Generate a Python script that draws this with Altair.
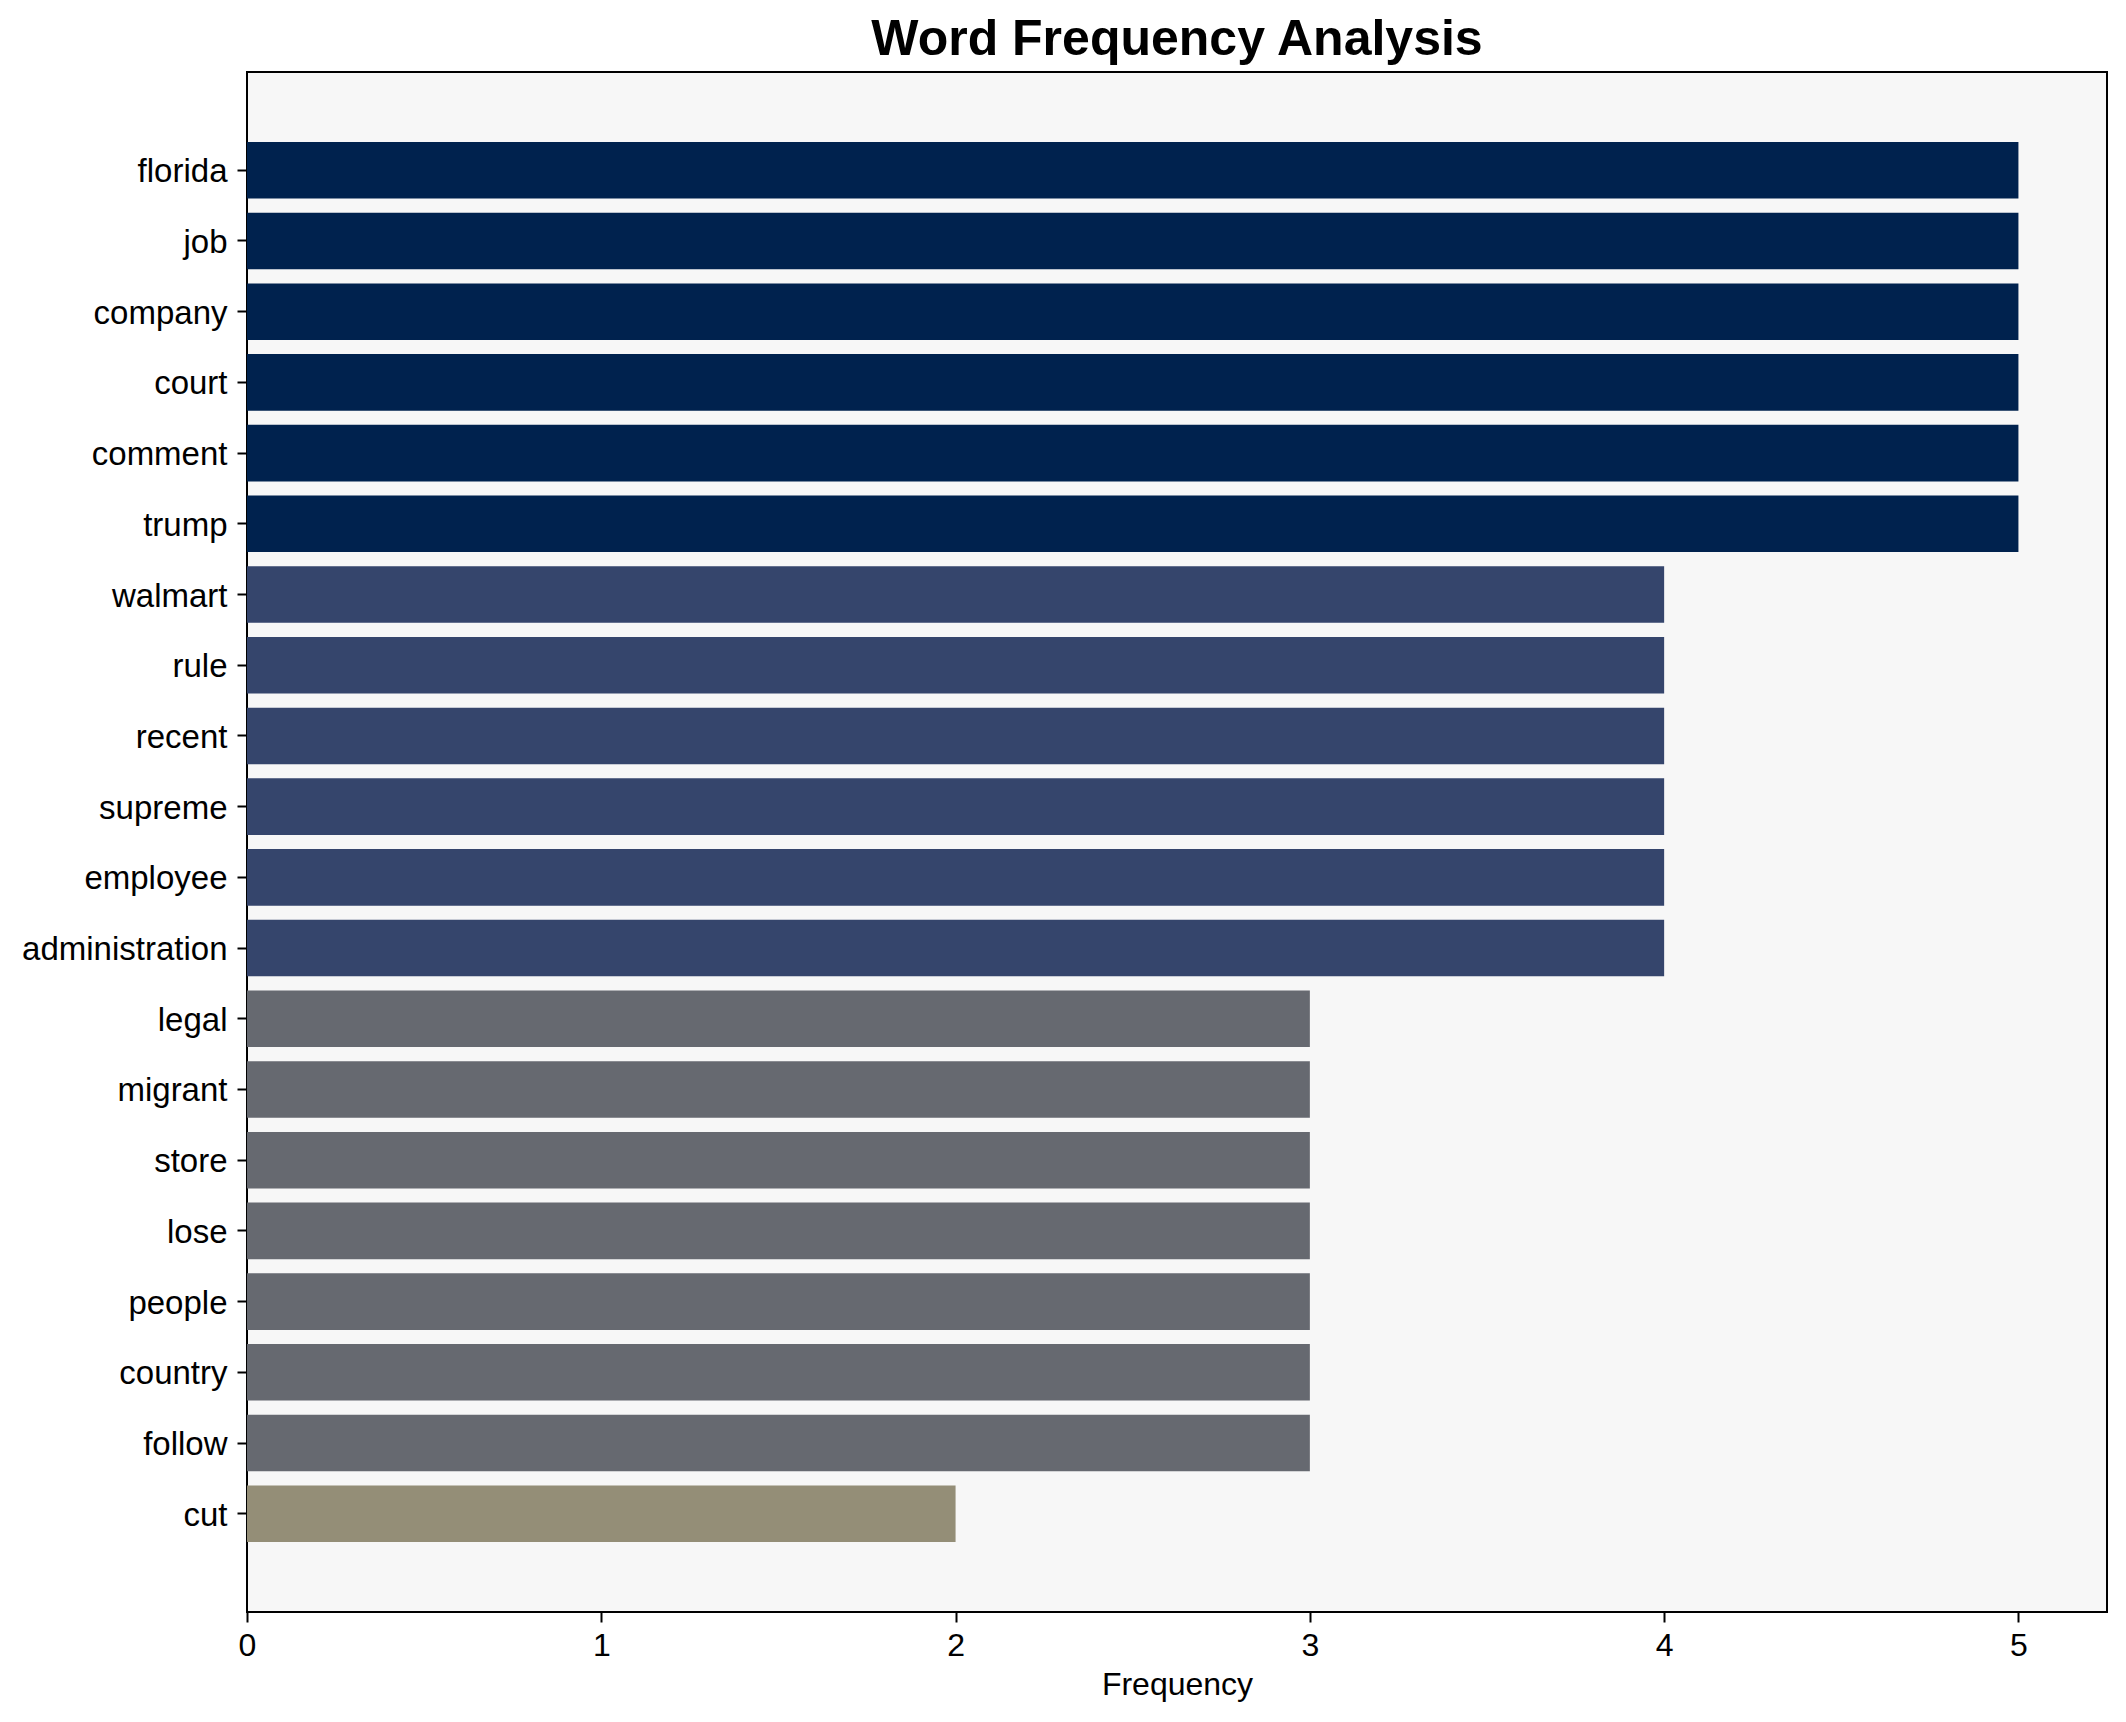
import altair as alt
import pandas as pd

words = ["florida", "job", "company", "court", "comment", "trump",
         "walmart", "rule", "recent", "supreme", "employee", "administration",
         "legal", "migrant", "store", "lose", "people", "country", "follow", "cut"]
freqs = [5, 5, 5, 5, 5, 5,
         4, 4, 4, 4, 4, 4,
         3, 3, 3, 3, 3, 3, 3, 2]
color_levels = [5, 4, 3, 2]
color_values = ["#00224e", "#35456c", "#666970", "#948e77"]
x_ticks = [0, 1, 2, 3, 4, 5]

df = pd.DataFrame({"word": words, "freq": freqs})

FONT = "Liberation Sans"

chart = alt.Chart(df).mark_bar().encode(
    x=alt.X("freq:Q",
            scale=alt.Scale(domain=[0, 5.25], nice=False, zero=True),
            axis=alt.Axis(values=x_ticks, format="d", title="Frequency",
                          labelFontSize=32, titleFontSize=32, titleFontWeight="normal",
                          labelFont=FONT, titleFont=FONT, labelColor="black", titleColor="black",
                          grid=False, domain=False, tickColor="black", tickWidth=2, tickSize=10,
                          labelPadding=8, titlePadding=8, labelFlush=False)),
    y=alt.Y("word:N", sort=words,
            scale=alt.Scale(paddingInner=0.2, paddingOuter=0.99),
            axis=alt.Axis(title=None, labelFontSize=33, labelFont=FONT, labelColor="black",
                          grid=False, domain=False, tickColor="black", tickWidth=2, tickSize=10,
                          labelPadding=10, labelLimit=500, labelOffset=2)),
    color=alt.Color("freq:O", scale=alt.Scale(domain=color_levels, range=color_values), legend=None),
).properties(
    width=1860,
    height=1540,
    title=alt.TitleParams("Word Frequency Analysis", fontSize=50, font=FONT, fontWeight="bold",
                          anchor="middle", color="black", baseline="bottom", offset=9, dy=52),
    autosize=alt.AutoSizeParams(type="none"),
    padding={"left": 239, "top": 64, "right": 10, "bottom": 100},
).configure_view(
    fill="#f7f7f7", stroke="black", strokeWidth=2
)

chart.save("out.html", embed_options={"renderer": "svg", "actions": False})
